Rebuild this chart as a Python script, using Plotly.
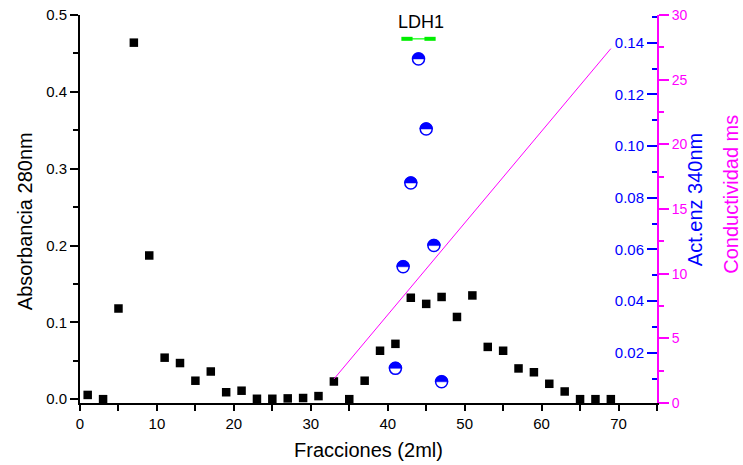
import math
import plotly.graph_objects as go

# ---------------- data ----------------
fractions_abs = [1, 3, 5, 7, 9, 11, 13, 15, 17, 19, 21, 23, 25, 27, 29, 31, 33, 35,
                 37, 39, 41, 43, 45, 47, 49, 51, 53, 55, 57, 59, 61, 63, 65, 67, 69]
absorbance = [0.0055, 0.0, 0.118, 0.464, 0.187, 0.054, 0.047, 0.024, 0.036, 0.009,
              0.011, 0.0005, 0.0005, 0.001, 0.0015, 0.004, 0.023, 0.0,
              0.024, 0.063, 0.072, 0.132, 0.124, 0.133, 0.107, 0.135, 0.068, 0.063,
              0.040, 0.035, 0.020, 0.010, 0.0, 0.0, 0.0]

fractions_act = [41, 42, 43, 44, 45, 46, 47]
activity = [0.0140, 0.0533, 0.0857, 0.1337, 0.1066, 0.0615, 0.0088]

fractions_cond = [33, 69]
conductivity = [1.85, 27.4]

ldh1_label = "LDH1"
ldh1_range = [42.5, 45.5]
ldh1_bar_y = 0.469
ldh1_label_x = 44.3
ldh1_label_y = 0.491

x_title = "Fracciones (2ml)"
y_title = "Absorbancia 280nm"
y2_title = "Act.enz 340nm"
y3_title = "Conductividad ms"

# ---------------- style ----------------
FONT = "Arial, Liberation Sans, sans-serif"
BLUE = "#0000ff"
MAG = "#ff00ff"
GREEN = "#00ee00"

fig = go.Figure()

fig.add_trace(go.Scatter(
    x=fractions_abs, y=absorbance, mode="markers", yaxis="y",
    marker=dict(symbol="square", size=8.5, color="black"),
    cliponaxis=False, showlegend=False))

fig.add_trace(go.Scatter(
    x=ldh1_range, y=[ldh1_bar_y, ldh1_bar_y], mode="lines+markers", yaxis="y",
    line=dict(color="#33ff33", width=1.5),
    marker=dict(symbol="line-ew", size=8, line=dict(color=GREEN, width=4)),
    showlegend=False))

fig.add_trace(go.Scatter(
    x=fractions_act, y=activity, mode="markers", yaxis="y2",
    marker=dict(symbol="circle", size=12, color="white",
                line=dict(color=BLUE, width=1.5)),
    cliponaxis=False, showlegend=False))

fig.add_trace(go.Scatter(
    x=fractions_cond, y=conductivity, mode="lines", yaxis="y3",
    line=dict(color=MAG, width=1), showlegend=False))

# top half of each activity marker filled (pixel-sized shape anchored at the data point)
r = 6.4
pts = [(r * math.cos(math.pi * k / 16), r * math.sin(math.pi * k / 16)) for k in range(17)]
half_path = "M " + " L ".join(f"{px:.2f},{py:.2f}" for px, py in pts) + " Z"
for fx, fy in zip(fractions_act, activity):
    fig.add_shape(type="path", xref="x", yref="y2", xsizemode="pixel", ysizemode="pixel",
                  xanchor=fx, yanchor=fy, path=half_path,
                  fillcolor=BLUE, line=dict(color=BLUE, width=0.5), layer="above")

fig.add_annotation(x=ldh1_label_x, y=ldh1_label_y, xref="x", yref="y", text=ldh1_label,
                   showarrow=False, font=dict(family=FONT, size=18, color="black"))

fig.add_annotation(x=0.5, y=-0.121, xref="paper", yref="paper", text=x_title,
                   showarrow=False, xanchor="center", yanchor="middle",
                   font=dict(family=FONT, size=20, color="black"))
fig.add_annotation(x=-0.095, y=0.469, xref="paper", yref="paper", text=y_title,
                   showarrow=False, textangle=-90, xanchor="center", yanchor="middle",
                   font=dict(family=FONT, size=20, color="black"))
fig.add_annotation(x=1.066, y=0.523, xref="paper", yref="paper", text=y2_title,
                   showarrow=False, textangle=-90, xanchor="center", yanchor="middle",
                   font=dict(family=FONT, size=20, color=BLUE))
fig.add_annotation(x=1.128, y=0.539, xref="paper", yref="paper", text=y3_title,
                   showarrow=False, textangle=-90, xanchor="center", yanchor="middle",
                   font=dict(family=FONT, size=20, color=MAG))

fig.update_layout(
    template="none",
    width=743, height=465,
    margin=dict(l=80, r=86, t=15, b=62, autoexpand=False),
    paper_bgcolor="white", plot_bgcolor="white",
    font=dict(family=FONT, size=15, color="black"),
    showlegend=False,
    xaxis=dict(range=[0, 75], tick0=0, dtick=10, tickformat="d", automargin=False,
               showline=True, linecolor="black", linewidth=2, mirror=False,
               ticks="outside", ticklen=6, tickwidth=2, tickcolor="black",
               minor=dict(dtick=5, ticks="outside", ticklen=6, tickwidth=2, tickcolor="black"),
               showgrid=False, zeroline=False,
               tickfont=dict(family=FONT, size=15, color="black")),
    yaxis=dict(range=[-0.005, 0.5], tick0=0, dtick=0.1, tickformat=".1f", automargin=False,
               showline=True, linecolor="black", linewidth=2,
               ticks="outside", ticklen=8, tickwidth=2, tickcolor="black",
               minor=dict(dtick=0.05, ticks="outside", ticklen=5, tickwidth=2, tickcolor="black"),
               showgrid=False, zeroline=False,
               tickfont=dict(family=FONT, size=15, color="black")),
    yaxis2=dict(range=[0.0006, 0.1507], tick0=0, dtick=0.02, tickformat=".2f", automargin=False,
                overlaying="y", side="left", anchor="free", position=1.0,
                showline=False, ticks="outside", ticklen=10, tickwidth=2, tickcolor=BLUE,
                minor=dict(dtick=0.01, ticks="outside", ticklen=5, tickwidth=2, tickcolor=BLUE),
                showgrid=False, zeroline=False,
                tickfont=dict(family=FONT, size=15, color=BLUE)),
    yaxis3=dict(range=[0, 30], tick0=0, dtick=5, tickformat="d", automargin=False,
                overlaying="y", side="right", anchor="x",
                showline=True, linecolor=MAG, linewidth=2,
                ticks="outside", ticklen=10, tickwidth=2, tickcolor=MAG,
                minor=dict(dtick=2.5, ticks="outside", ticklen=5, tickwidth=2, tickcolor=MAG),
                showgrid=False, zeroline=False,
                tickfont=dict(family=FONT, size=14, color=MAG)),
)

fig.write_html("out.html")
